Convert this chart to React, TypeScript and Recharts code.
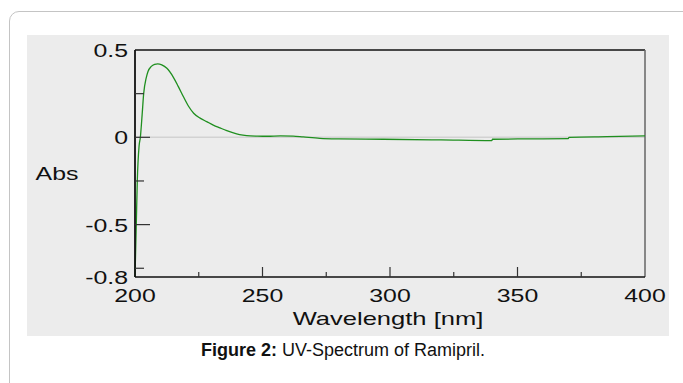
import React from "react";
import { LineChart, Line, XAxis, YAxis, ReferenceLine, Label } from "recharts";

// UV spectrum of Ramipril
const wavelength = [
  200, 200.1, 200.5, 200.9, 201.6, 202.1, 202.8, 203.4, 204.4, 205.1, 206.4, 207.7, 208.9, 210.5,
  212.5, 215, 217, 219, 221, 223, 225.5, 228.1, 230.7, 233.3, 236, 238.6, 241, 243.8, 248,
  252, 257, 262, 266, 272.5, 280, 297.4, 320, 339.9, 340.2, 355, 369.9, 370.2, 385, 400,
];
const absorbance = [
  -0.8, -0.74, -0.5, -0.25, -0.05, 0.0, 0.13, 0.25, 0.34, 0.377, 0.406, 0.418, 0.421, 0.415,
  0.395, 0.345, 0.29, 0.232, 0.178, 0.138, 0.11, 0.09, 0.07, 0.054, 0.038, 0.025, 0.016, 0.01, 0.007,
  0.006, 0.008, 0.007, 0.002, -0.006, -0.009, -0.011, -0.015, -0.019, -0.011, -0.009, -0.007, 0.0,
  0.004, 0.008,
];

const xTicks = [200, 225, 250, 275, 300, 325, 350, 375, 400];
const xLabels = [200, 250, 300, 350, 400];
const xMajor = [250, 300, 350];
const yTicks = [-0.8, -0.75, -0.5, -0.25, 0, 0.25, 0.5];
const yLabels = [-0.8, -0.5, 0, 0.5];
const yMajor = [-0.5, 0];

const data = wavelength.map((wl, i) => ({ wl, abs: absorbance[i] }));

const FONT = "'Liberation Sans', Arial, sans-serif";
const STRETCH = 1.42;

const XTick = (props: any) => {
  const { x, y, payload } = props;
  const v = payload.value;
  const showLine = v !== 200 && v !== 400;
  const len = xMajor.includes(v) ? 10 : 5;
  return (
    <g>
      {showLine && <line x1={x} y1={y} x2={x} y2={y - len} stroke="#333" strokeWidth={1.2} />}
      {xLabels.includes(v) && (
        <text
          transform={`translate(${x},${y + 25}) scale(${STRETCH},1)`}
          textAnchor="middle"
          fontSize={17.5}
          fontFamily={FONT}
          fill="#111"
        >
          {v}
        </text>
      )}
    </g>
  );
};

const YTick = (props: any) => {
  const { x, y, payload } = props;
  const v = payload.value;
  const showLine = v !== 0.5 && v !== -0.8;
  const len = yMajor.includes(v) ? 15 : 9;
  return (
    <g>
      {showLine && <line x1={x} y1={y} x2={x + len} y2={y} stroke="#333" strokeWidth={1.2} />}
      {yLabels.includes(v) && (
        <text
          transform={`translate(${x - 7},${y + 7}) scale(${STRETCH},1)`}
          textAnchor="end"
          fontSize={17.5}
          fontFamily={FONT}
          fill="#111"
        >
          {v}
        </text>
      )}
    </g>
  );
};

const AbsLabel = (props: any) => {
  const { viewBox } = props;
  const cy = viewBox.y + viewBox.height / 2;
  return (
    <text
      transform={`translate(${viewBox.x + 30},${cy + 16}) scale(${STRETCH},1)`}
      textAnchor="middle"
      fontSize={17.5}
      fontFamily={FONT}
      fill="#111"
    >
      Abs
    </text>
  );
};

const WlLabel = (props: any) => {
  const { viewBox } = props;
  const cx = viewBox.x + viewBox.width / 2;
  return (
    <text
      transform={`translate(${cx - 2},${viewBox.y + 48}) scale(${STRETCH},1)`}
      textAnchor="middle"
      fontSize={18}
      fontFamily={FONT}
      fill="#111"
    >
      Wavelength [nm]
    </text>
  );
};

export default function App() {
  return (
    <div style={{ position: "absolute", left: 0, top: 0, width: 683, height: 383, overflow: "hidden", background: "#fff" }}>
      <div
        style={{
          position: "absolute",
          left: 9,
          top: 11,
          width: 700,
          height: 400,
          border: "1px solid #c4c4c4",
          borderRadius: 10,
        }}
      />
      <div style={{ position: "absolute", left: 27, top: 35, width: 642, height: 301, background: "#ececec" }}>
        <LineChart width={642} height={301} data={data} margin={{ top: 15, right: 24, left: 0, bottom: 0 }}>
          <ReferenceLine y={0} stroke="#d2d2d2" strokeWidth={1.5} />
          <XAxis
            type="number"
            dataKey="wl"
            domain={[200, 400]}
            ticks={xTicks}
            interval={0}
            height={59}
            tickSize={0}
            tickMargin={0}
            tickLine={false}
            axisLine={{ stroke: "#111", strokeWidth: 1.6 }}
            tick={<XTick />}
            label={<Label content={<WlLabel />} />}
          />
          <YAxis
            type="number"
            domain={[-0.8, 0.5]}
            ticks={yTicks}
            interval={0}
            width={108}
            tickSize={0}
            tickMargin={0}
            tickLine={false}
            axisLine={{ stroke: "#111", strokeWidth: 1.8 }}
            tick={<YTick />}
            label={<Label content={<AbsLabel />} />}
          />
          <ReferenceLine y={0.5} stroke="#111" strokeWidth={1.5} />
          <ReferenceLine x={400} stroke="#666" strokeWidth={1.5} />
          <Line
            type="monotone"
            dataKey="abs"
            stroke="#1f8f1f"
            strokeWidth={1.3}
            dot={false}
            isAnimationActive={false}
          />
        </LineChart>
      </div>
      <div
        style={{
          position: "absolute",
          left: 0,
          top: 342,
          width: 686,
          textAlign: "center",
          fontFamily: FONT,
          fontSize: 18,
          lineHeight: "17.5px",
          color: "#111",
        }}
      >
        <b>Figure 2:</b> UV-Spectrum of Ramipril.
      </div>
    </div>
  );
}
